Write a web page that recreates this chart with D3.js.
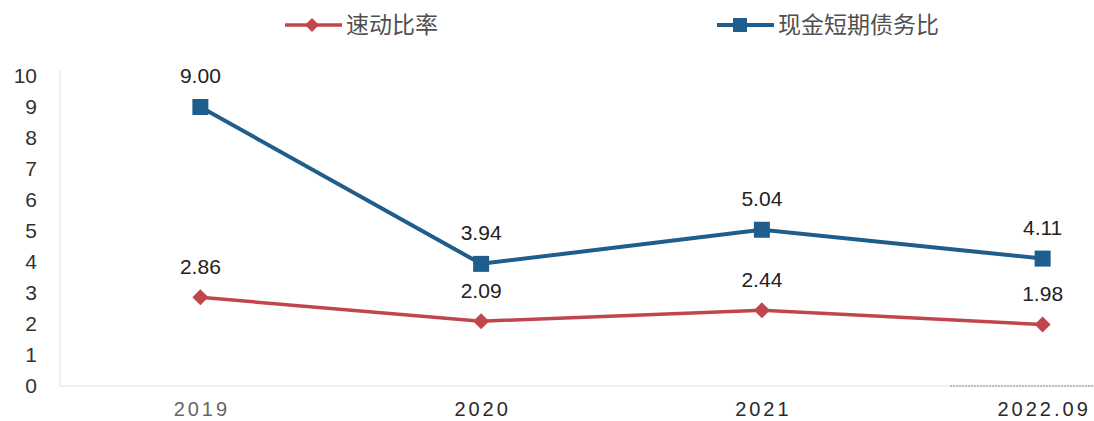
<!DOCTYPE html>
<html>
<head>
<meta charset="utf-8">
<script src="https://cdn.jsdelivr.net/npm/d3@7/dist/d3.min.js"></script>
<style>
  html, body { margin: 0; padding: 0; background: #fff; }
  svg { display: block; }
</style>
</head>
<body>
<svg id="chart" width="1094" height="421"></svg>
<script>
// Periods on the x axis
const categories = ["2019", "2020", "2021", "2022.09"];
// 速动比率 (quick ratio)
const quickRatio = [2.86, 2.09, 2.44, 1.98];
// 现金短期债务比 (cash to short-term debt)
const cashDebtRatio = [9.00, 3.94, 5.04, 4.11];
// Y axis ticks
const yTicks = [0, 1, 2, 3, 4, 5, 6, 7, 8, 9, 10];

const series = [
  { name: "速动比率", values: quickRatio, color: "#c1464b", width: 3.5, marker: "diamond" },
  { name: "现金短期债务比", values: cashDebtRatio, color: "#1f5d8c", width: 4, marker: "square" }
];

const svg = d3.select("#chart");
const font = "Arial, 'Liberation Sans', sans-serif";

const plot = { left: 60, right: 1183, top: 76, bottom: 386 };

const x = d3.scaleBand().domain(categories).range([plot.left, plot.right]);
const xc = d => x(d) + x.bandwidth() / 2;
const y = d3.scaleLinear().domain([0, 10]).range([plot.bottom, plot.top]);

// Marker shapes: square, and a diamond as wide as it is tall
const markerPath = (type, r) => type === "square"
  ? `M${-r},${-r}H${r}V${r}H${-r}Z`
  : `M0,${-r}L${r},0L0,${r}L${-r},0Z`;

// Axis lines (faint)
svg.append("line")
  .attr("x1", plot.left).attr("x2", plot.left)
  .attr("y1", y(10) - 6).attr("y2", plot.bottom)
  .attr("stroke", "#e6e6e6").attr("stroke-width", 1.2);
svg.append("line")
  .attr("x1", plot.left).attr("x2", 1094)
  .attr("y1", plot.bottom).attr("y2", plot.bottom)
  .attr("stroke", "#e2e2e2").attr("stroke-width", 1.2);
svg.append("line")
  .attr("x1", 950).attr("x2", 1094)
  .attr("y1", plot.bottom).attr("y2", plot.bottom)
  .attr("stroke", "#8a8a8a").attr("stroke-width", 1).attr("stroke-dasharray", "2,1");

// Y axis tick labels
const yAxis = d3.axisLeft(y).tickValues(yTicks).tickSize(0).tickPadding(0).tickFormat(d3.format("d"));
const gy = svg.append("g").attr("transform", `translate(37,0)`).call(yAxis);
gy.select(".domain").remove();
gy.selectAll("text")
  .attr("font-family", font).attr("font-size", 21).attr("fill", "#333");

// X axis tick labels
const xAxis = d3.axisBottom(x).tickSize(0).tickPadding(0);
const gx = svg.append("g").attr("transform", `translate(1.5,${plot.bottom + 16})`).call(xAxis);
gx.select(".domain").remove();
gx.selectAll("text")
  .attr("font-family", font).attr("font-size", 20)
  .attr("letter-spacing", "3px")
  .attr("fill", (d, i) => i === 0 ? "#666" : "#2a2a2a");

const line = d3.line().x((d, i) => xc(categories[i])).y(d => y(d));

series.forEach(s => {
  svg.append("path")
    .datum(s.values)
    .attr("d", line)
    .attr("fill", "none")
    .attr("stroke", s.color)
    .attr("stroke-width", s.width)
    .attr("stroke-linejoin", "round");

  svg.append("g").selectAll("path")
    .data(s.values)
    .join("path")
    .attr("d", markerPath(s.marker, 8))
    .attr("transform", (d, i) => `translate(${xc(categories[i])},${y(d)})`)
    .attr("fill", s.color);

  svg.append("g").selectAll("text")
    .data(s.values)
    .join("text")
    .attr("x", (d, i) => xc(categories[i]))
    .attr("y", d => y(d) - 31)
    .attr("dy", "0.35em")
    .attr("text-anchor", "middle")
    .attr("font-family", font).attr("font-size", 21)
    .attr("fill", "#222")
    .text(d => d.toFixed(2));
});

// Legend
const legendItems = [
  { s: series[0], x0: 285 },
  { s: series[1], x0: 717 }
];
legendItems.forEach(({ s, x0 }) => {
  const ly = 25;
  svg.append("line")
    .attr("x1", x0).attr("x2", x0 + 57)
    .attr("y1", ly).attr("y2", ly)
    .attr("stroke", s.color).attr("stroke-width", s.width);
  const mx = s.marker === "square" ? x0 + 23 : x0 + 27;
  svg.append("path").attr("d", markerPath(s.marker, 7))
    .attr("transform", `translate(${mx},${ly})`)
    .attr("fill", s.color);
  svg.append("text")
    .attr("x", x0 + 61).attr("y", ly).attr("dy", "0.35em")
    .attr("font-family", "'Noto Sans CJK SC', sans-serif").attr("font-size", 23)
    .attr("fill", "#505050")
    .text(s.name);
});
</script>
</body>
</html>
